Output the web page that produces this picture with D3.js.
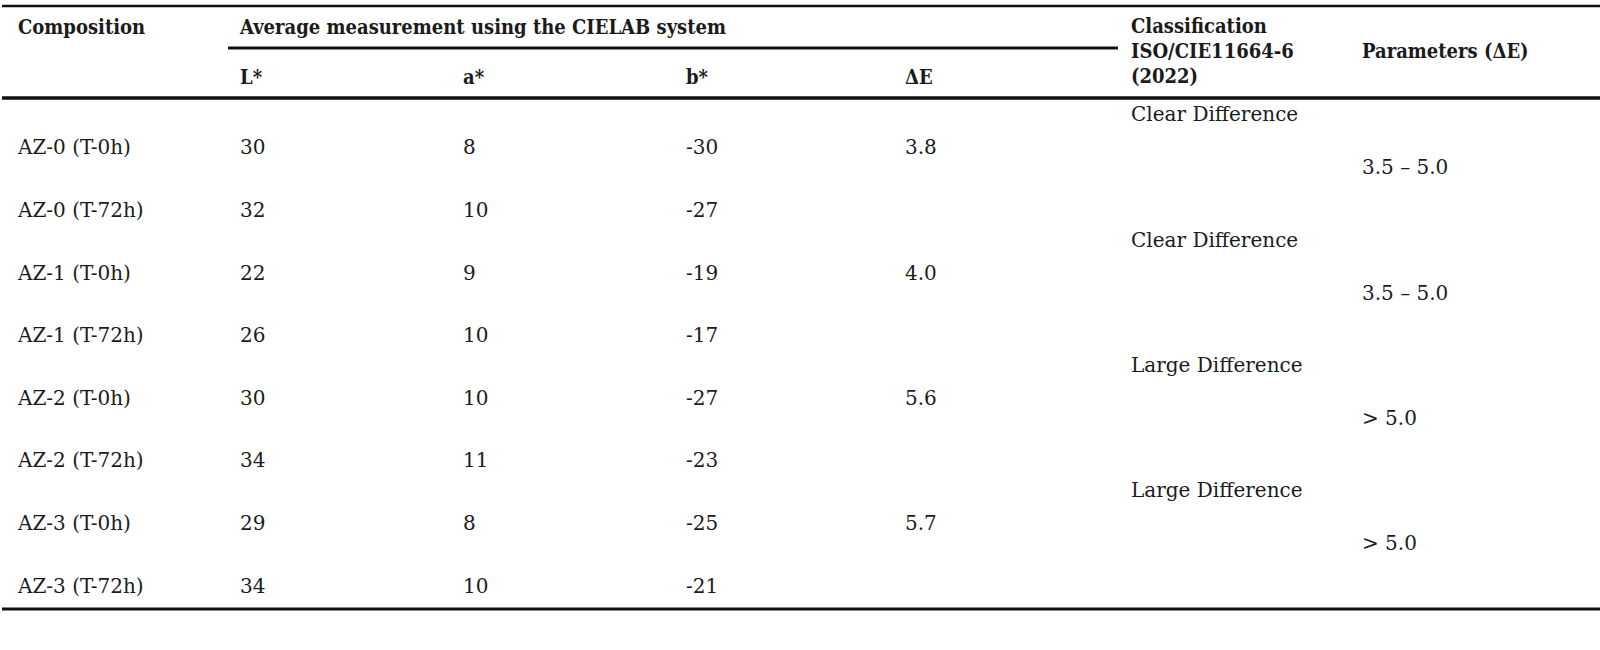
<!DOCTYPE html>
<html>
<head>
<meta charset="utf-8">
<script src="https://cdn.jsdelivr.net/npm/d3@7"></script>
<style>
  body { margin: 0; background: #fff; }
  .hd { font-family: "DejaVu Serif Condensed", "DejaVu Serif", serif; font-weight: bold; font-size: 20px; fill: #1b1b1b; }
  .bd { font-family: "DejaVu Serif", serif; font-size: 20px; fill: #1b1b1b; }
</style>
</head>
<body>
<div id="chart"></div>
<script>
let width = 1600, height = 650;

// table data
const compositions = ["AZ-0 (T-0h)", "AZ-0 (T-72h)", "AZ-1 (T-0h)", "AZ-1 (T-72h)",
                      "AZ-2 (T-0h)", "AZ-2 (T-72h)", "AZ-3 (T-0h)", "AZ-3 (T-72h)"];
const Lstar = [30, 32, 22, 26, 30, 34, 29, 34];
const astar = [8, 10, 9, 10, 10, 11, 8, 10];
const bstar = [-30, -27, -19, -17, -27, -23, -25, -21];
const groups = ["AZ-0", "AZ-1", "AZ-2", "AZ-3"];
const deltaE = [3.8, 4.0, 5.6, 5.7];
const classification = ["Clear Difference", "Clear Difference", "Large Difference", "Large Difference"];
const parameters = ["3.5 \u2013 5.0", "3.5 \u2013 5.0", "> 5.0", "> 5.0"];

const columns = ["comp", "L", "a", "b", "dE", "cls", "par"];
const colX = [18, 240, 463, 686, 905, 1131, 1362];

const svg = d3.select("#chart")
  .append("svg")
  .attr("width", width)
  .attr("height", height);

let x = d3.scaleOrdinal().domain(columns).range(colX);

let y = d3.scaleBand()
  .domain(compositions)
  .range([116, 617]);

let yc = d => y(d) + y.bandwidth() / 2; // row centre

// rules
const rules = svg.append("g").attr("stroke", "#111");
rules.append("line").attr("x1", 2).attr("x2", width).attr("y1", 6).attr("y2", 6).attr("stroke-width", 2.5);
rules.append("line").attr("x1", 228).attr("x2", 1118).attr("y1", 48).attr("y2", 48).attr("stroke-width", 3);
rules.append("line").attr("x1", 2).attr("x2", width).attr("y1", 98).attr("y2", 98).attr("stroke-width", 3.5);
rules.append("line").attr("x1", 2).attr("x2", width).attr("y1", 609).attr("y2", 609).attr("stroke-width", 3);

// header
const head = svg.append("g").attr("class", "hd");
head.append("text").attr("x", x("comp")).attr("y", 34).text("Composition");
head.append("text").attr("x", x("L")).attr("y", 34).text("Average measurement using the CIELAB system");
head.append("text").attr("x", x("L")).attr("y", 84).text("L*");
head.append("text").attr("x", x("a")).attr("y", 84).text("a*");
head.append("text").attr("x", x("b")).attr("y", 84).text("b*");
head.append("text").attr("x", x("dE")).attr("y", 84).text("\u0394E");
head.append("text").attr("x", x("cls")).attr("y", 33).text("Classification");
head.append("text").attr("x", x("cls")).attr("y", 58).text("ISO/CIE11664-6");
head.append("text").attr("x", x("cls")).attr("y", 83).text("(2022)");
head.append("text").attr("x", x("par")).attr("y", 58).text("Parameters (\u0394E)");

// body rows
const body = svg.append("g").attr("class", "bd");
const rows = body.selectAll("g.row")
  .data(compositions.map((c, i) => ({ c, L: Lstar[i], a: astar[i], b: bstar[i] })))
  .join("g")
  .attr("class", "row")
  .attr("transform", d => `translate(0,${yc(d.c)})`);

rows.append("text").attr("x", x("comp")).attr("dy", "0.35em").text(d => d.c);
rows.append("text").attr("x", x("L")).attr("dy", "0.35em").text(d => d.L);
rows.append("text").attr("x", x("a")).attr("dy", "0.35em").text(d => d.a);
rows.append("text").attr("x", x("b")).attr("dy", "0.35em").text(d => d.b);

// per-group values (first row of each pair)
const grp = body.selectAll("g.grp")
  .data(groups.map((g, i) => ({ g, first: compositions[i * 2], dE: deltaE[i], cls: classification[i], par: parameters[i] })))
  .join("g")
  .attr("class", "grp")
  .attr("transform", d => `translate(0,${yc(d.first)})`);

grp.append("text").attr("x", x("dE")).attr("dy", "0.35em").text(d => d3.format(".1f")(d.dE));
grp.append("text").attr("x", x("cls")).attr("y", -33).attr("dy", "0.35em").text(d => d.cls);
grp.append("text").attr("x", x("par")).attr("y", 20).attr("dy", "0.35em").text(d => d.par);
</script>
</body>
</html>
